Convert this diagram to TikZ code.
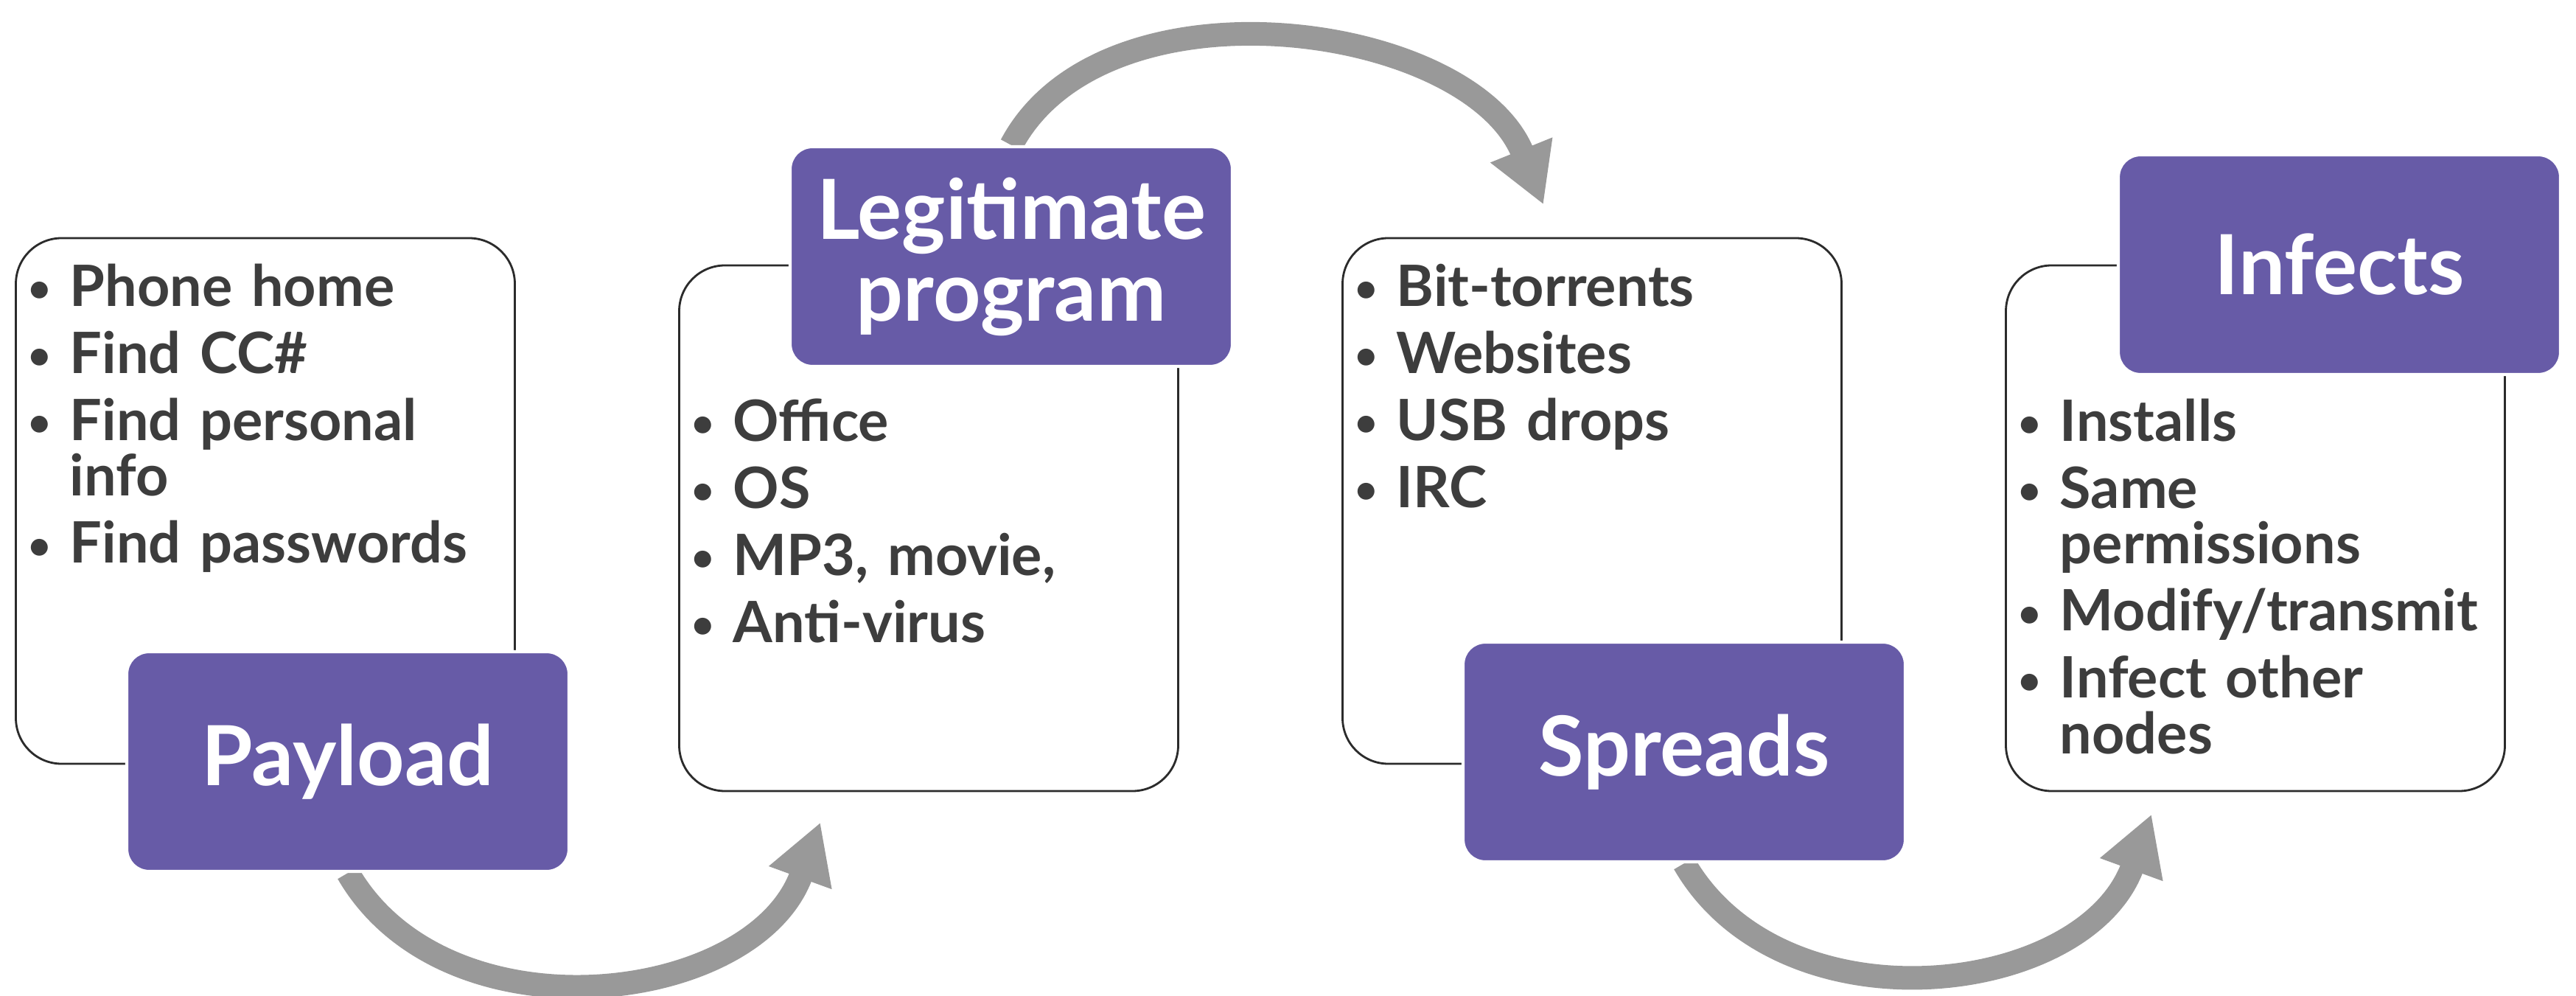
\documentclass[tikz,border=0pt]{standalone}
\usepackage{fontspec}
\setmainfont{Lato}
\usetikzlibrary{arrows.meta,positioning,backgrounds}
\definecolor{slate}{HTML}{675BA7}
\definecolor{ink}{HTML}{3D3D3D}
\definecolor{flow}{HTML}{999999}
\newcommand{\bitem}[1]{\par\hangindent=0.59cm\hangafter=1\noindent\makebox[0.59cm][l]{\hspace{0.03cm}\raisebox{1.6pt}{\fontsize{15}{15}\selectfont\textbullet}}\rule{0pt}{16pt}#1\par}
\begin{document}
\begin{tikzpicture}[
    panel/.style={draw=ink!70!black, line width=0.8pt, rounded corners=0.62cm, fill=white, minimum width=6.77cm, minimum height=7.13cm, inner sep=0pt},
    stage/.style={fill=slate, draw=white, line width=1.2pt, rounded corners=0.3cm, minimum width=6cm, minimum height=2.98cm, inner sep=0pt, text=white, align=center, font=\fontsize{32}{31.5}\selectfont\bfseries},
    points/.style={anchor=north west, inner sep=0pt, text width=6.2cm, align=left, text=ink, font=\fontsize{22}{21.5}\selectfont\bfseries, execute at begin node={\setlength{\parskip}{4.4pt}}},
    flowarrow/.style={draw=flow, line width=0.32cm, -{Triangle[width=0.85cm, length=0.8cm]}}]
    \useasboundingbox (0,0) rectangle (34.95,13.5);
    \node[panel] (p1) at (3.6,6.705) {};
    \node[panel] (p2) at (12.6,6.335) {};
    \node[panel] (p3) at (21.6,6.705) {};
    \node[panel] (p4) at (30.6,6.335) {};
    \node[points] (l1) at ([xshift=0.15cm, yshift=-0.02cm]p1.north west) {\bitem{Phone home}\bitem{Find CC\#}\bitem{Find personal\newline info}\bitem{Find passwords}};
    \node[points] (l2) at ([xshift=0.15cm, yshift=-1.48cm]p2.north west) {\bitem{Office}\bitem{OS}\bitem{MP3, movie,}\bitem{Anti-virus}};
    \node[points] (l3) at ([xshift=0.15cm, yshift=-0.02cm]p3.north west) {\bitem{Bit-torrents}\bitem{Websites}\bitem{USB drops}\bitem{IRC}};
    \node[points] (l4) at ([xshift=0.15cm, yshift=-1.48cm]p4.north west) {\bitem{Installs}\bitem{Same\newline permissions}\bitem{Modify/transmit}\bitem{Infect other\newline nodes}};
    \node[stage] (payload) at (4.72,3.17) {Payload};
    \node[stage] (legit) at (13.72,10.02) {Legitimate\\program};
    \node[stage] (spreads) at (22.85,3.3) {Spreads};
    \node[stage] (infects) at (31.74,9.91) {Infects};
    \coordinate[below right=0.41cm and 1.93cm of p2.south west] (in2);
    \coordinate[above right=0.44cm and 2.74cm of p3.north west] (in3);
    \coordinate[below right=0.3cm and 1.99cm of p4.south west] (in4);
    \begin{scope}[on background layer]
        \draw[flowarrow] (payload.south) .. controls +(-60:2.65) and +(-110:2.65) .. (in2);
        \draw[flowarrow] (legit.north) .. controls +(62:2.67) and +(112:2.67) .. (in3);
        \draw[flowarrow] (spreads.south) .. controls +(-60:2.65) and +(-110:2.65) .. (in4);
    \end{scope}
\end{tikzpicture}
\end{document}
